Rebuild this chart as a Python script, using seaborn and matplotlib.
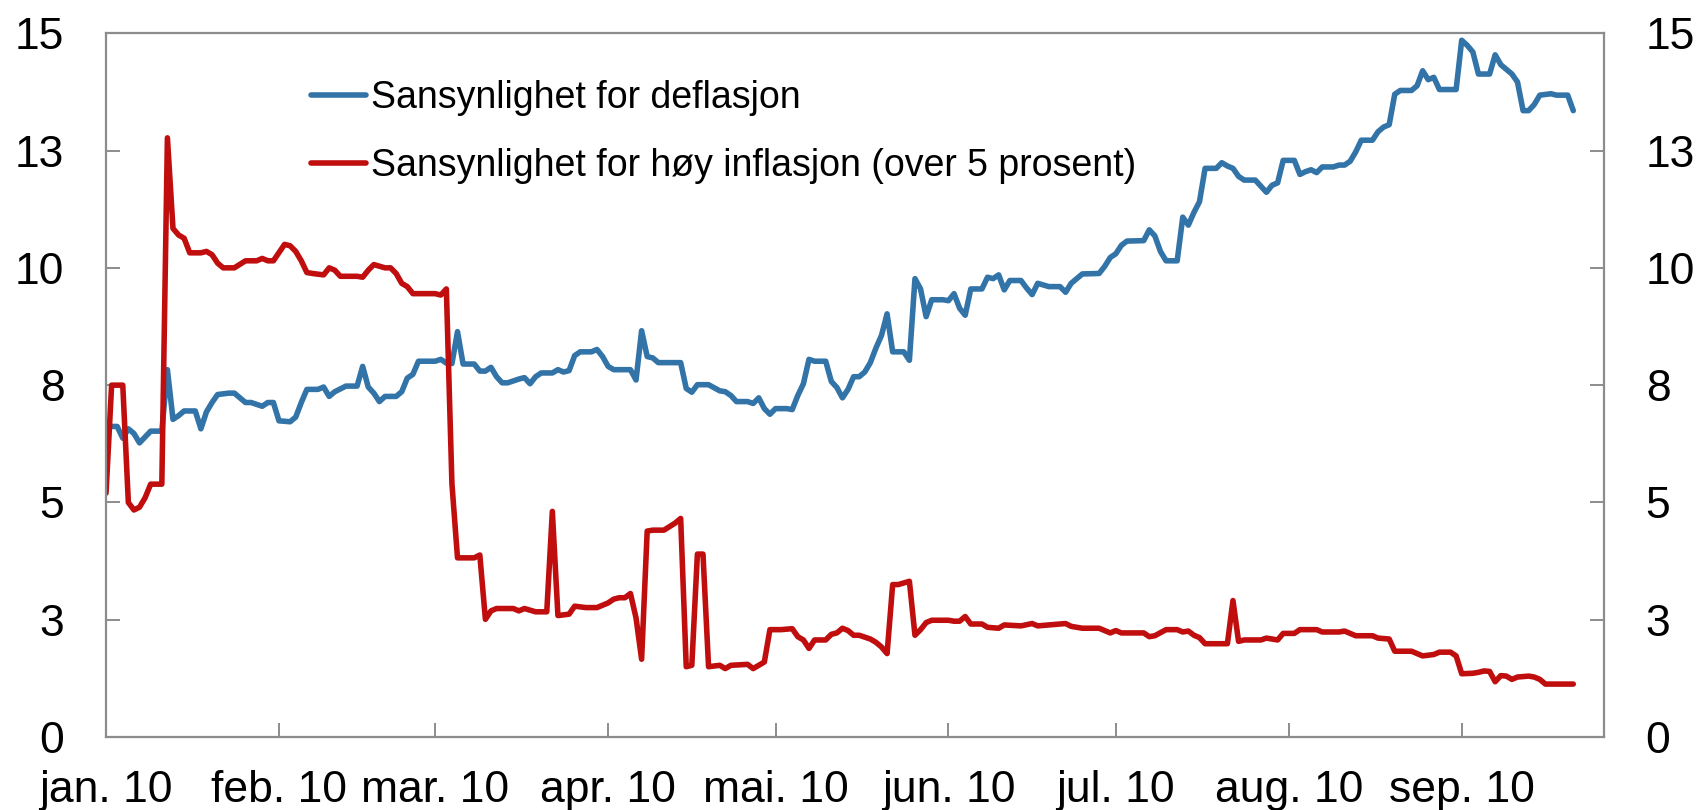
"""
Sannsynlighet for deflasjon og høy inflasjon, 2010
"""

import matplotlib

matplotlib.use("Agg")
import matplotlib.pyplot as plt
import pandas as pd
import seaborn as sns

START = pd.Timestamp("2010-01-01")

# (dager etter 1. jan 2010, prosent) - lest av figuren
defl_points = [
    (0, 6.62), (2, 6.62), (3, 6.37), (4, 6.57), (5, 6.47), (6, 6.27), (8, 6.52), (10, 6.52),
    (11, 7.83), (12, 6.77), (13, 6.85), (14, 6.95), (16, 6.95), (17, 6.57), (18, 6.93),
    (19, 7.13), (20, 7.30), (22, 7.33), (23, 7.33), (25, 7.13), (26, 7.13), (28, 7.05),
    (29, 7.13), (30, 7.13), (31, 6.74), (33, 6.72), (34, 6.82), (35, 7.13), (36, 7.41),
    (38, 7.41), (39, 7.46), (40, 7.26), (41, 7.36), (43, 7.48), (45, 7.48), (46, 7.90),
    (47, 7.46), (48, 7.33), (49, 7.15), (50, 7.26), (52, 7.26), (53, 7.36), (54, 7.65),
    (55, 7.73), (56, 8.01), (59, 8.01), (60, 8.05), (61, 7.97), (62, 7.96), (63, 8.64),
    (64, 7.95), (66, 7.95), (67, 7.80), (68, 7.80), (69, 7.88), (70, 7.68), (71, 7.55),
    (72, 7.55), (74, 7.63), (75, 7.66), (76, 7.53), (77, 7.68), (78, 7.76), (80, 7.76),
    (81, 7.83), (82, 7.78), (83, 7.81), (84, 8.13), (85, 8.21), (87, 8.21), (88, 8.26),
    (89, 8.11), (90, 7.90), (91, 7.83), (94, 7.83), (95, 7.61), (96, 8.66), (97, 8.11),
    (98, 8.08), (99, 7.98), (103, 7.98), (104, 7.43), (105, 7.35), (106, 7.51), (108, 7.51),
    (110, 7.38), (111, 7.36), (112, 7.28), (113, 7.15), (115, 7.15), (116, 7.11), (117, 7.23),
    (118, 7.00), (119, 6.88), (120, 7.00), (122, 7.00), (123, 6.98), (124, 7.28), (125, 7.53),
    (126, 8.05), (127, 8.01), (129, 8.01), (130, 7.58), (131, 7.45), (132, 7.23), (133, 7.41),
    (134, 7.68), (135, 7.68), (136, 7.78), (137, 7.98), (138, 8.29), (139, 8.56), (140, 9.02),
    (141, 8.21), (143, 8.21), (144, 8.03), (145, 9.77), (146, 9.55), (147, 8.96), (148, 9.32),
    (150, 9.32), (151, 9.30), (152, 9.45), (153, 9.14), (154, 8.99), (155, 9.55), (157, 9.55),
    (158, 9.80), (159, 9.77), (160, 9.85), (161, 9.53), (162, 9.73), (164, 9.73), (165, 9.57),
    (166, 9.43), (167, 9.67), (169, 9.60), (171, 9.60), (172, 9.48), (173, 9.67), (174, 9.77),
    (175, 9.87), (178, 9.88), (179, 10.03), (180, 10.22), (181, 10.30), (182, 10.48),
    (183, 10.57), (186, 10.58), (187, 10.81), (188, 10.68), (189, 10.35), (190, 10.15),
    (192, 10.15), (193, 11.08), (194, 10.91), (195, 11.18), (196, 11.41), (197, 12.12),
    (199, 12.12), (200, 12.24), (201, 12.17), (202, 12.12), (203, 11.95), (204, 11.87),
    (206, 11.87), (207, 11.74), (208, 11.61), (209, 11.76), (210, 11.81), (211, 12.29),
    (213, 12.29), (214, 11.99), (215, 12.05), (216, 12.09), (217, 12.03), (218, 12.15),
    (220, 12.15), (221, 12.19), (222, 12.19), (223, 12.27), (224, 12.47), (225, 12.72),
    (227, 12.72), (228, 12.90), (229, 13.00), (230, 13.05), (231, 13.70), (232, 13.78),
    (234, 13.78), (235, 13.88), (236, 14.20), (237, 14.01), (238, 14.06), (239, 13.80),
    (242, 13.80), (243, 14.85), (244, 14.74), (245, 14.60), (246, 14.13), (248, 14.13),
    (249, 14.54), (250, 14.33), (251, 14.23), (252, 14.13), (253, 13.96), (254, 13.35),
    (255, 13.35), (256, 13.48), (257, 13.68), (259, 13.71), (260, 13.68), (262, 13.68),
    (263, 13.35),
]

infl_points = [
    (0, 5.20), (1, 7.50), (3, 7.50), (4, 5.00), (5, 4.84), (6, 4.90), (7, 5.10), (8, 5.39),
    (10, 5.39), (11, 12.77), (12, 10.84), (13, 10.70), (14, 10.63), (15, 10.32), (17, 10.32),
    (18, 10.35), (19, 10.28), (20, 10.10), (21, 10.00), (23, 10.00), (25, 10.15), (27, 10.15),
    (28, 10.20), (29, 10.15), (30, 10.15), (32, 10.50), (33, 10.47), (34, 10.35), (35, 10.15),
    (36, 9.90), (37, 9.88), (39, 9.85), (40, 10.00), (41, 9.95), (42, 9.82), (45, 9.82),
    (46, 9.80), (47, 9.95), (48, 10.07), (50, 10.00), (51, 10.00), (52, 9.88), (53, 9.67),
    (54, 9.60), (55, 9.45), (59, 9.45), (60, 9.42), (61, 9.55), (62, 5.40), (63, 3.82),
    (66, 3.82), (67, 3.88), (68, 2.51), (69, 2.69), (70, 2.74), (73, 2.74), (74, 2.69),
    (75, 2.74), (77, 2.67), (79, 2.67), (80, 4.81), (81, 2.59), (83, 2.62), (84, 2.79),
    (86, 2.76), (88, 2.76), (90, 2.86), (91, 2.94), (92, 2.97), (93, 2.97), (94, 3.06),
    (95, 2.54), (96, 1.66), (97, 4.39), (98, 4.41), (100, 4.41), (102, 4.56), (103, 4.66),
    (104, 1.50), (105, 1.53), (106, 3.90), (107, 3.90), (108, 1.50), (110, 1.53), (111, 1.46),
    (112, 1.53), (115, 1.55), (116, 1.46), (118, 1.60), (119, 2.29), (121, 2.29), (123, 2.31),
    (124, 2.14), (125, 2.07), (126, 1.89), (127, 2.07), (129, 2.07), (130, 2.19), (131, 2.22),
    (132, 2.32), (133, 2.27), (134, 2.17), (135, 2.17), (137, 2.09), (138, 2.02), (139, 1.92),
    (140, 1.78), (141, 3.25), (142, 3.25), (144, 3.32), (145, 2.17), (146, 2.29), (147, 2.44),
    (148, 2.49), (151, 2.49), (152, 2.47), (153, 2.47), (154, 2.57), (155, 2.41), (157, 2.41),
    (158, 2.34), (160, 2.32), (161, 2.39), (164, 2.37), (166, 2.42), (167, 2.37), (169, 2.39),
    (172, 2.42), (173, 2.36), (175, 2.32), (178, 2.32), (180, 2.22), (181, 2.27), (182, 2.22),
    (184, 2.22), (186, 2.22), (187, 2.14), (188, 2.16), (190, 2.29), (192, 2.29), (193, 2.24),
    (194, 2.26), (195, 2.17), (196, 2.12), (197, 1.99), (201, 1.99), (202, 2.91), (203, 2.04),
    (204, 2.07), (207, 2.07), (208, 2.11), (210, 2.07), (211, 2.21), (213, 2.21), (214, 2.29),
    (217, 2.29), (218, 2.24), (221, 2.24), (222, 2.26), (224, 2.16), (227, 2.16), (228, 2.11),
    (230, 2.09), (231, 1.83), (234, 1.83), (236, 1.73), (238, 1.76), (239, 1.81), (241, 1.81),
    (242, 1.73), (243, 1.35), (245, 1.36), (246, 1.38), (247, 1.41), (248, 1.40), (249, 1.18),
    (250, 1.31), (251, 1.30), (252, 1.23), (253, 1.28), (255, 1.30), (256, 1.28), (257, 1.23),
    (258, 1.13), (260, 1.13), (263, 1.13),
]

series_names = ["Sansynlighet for deflasjon", "Sansynlighet for høy inflasjon (over 5 prosent)"]
series_colors = ["#3273A8", "#C00D0D"]

month_starts = ["2010-01-01", "2010-02-01", "2010-03-01", "2010-04-01", "2010-05-01",
                "2010-06-01", "2010-07-01", "2010-08-01", "2010-09-01"]
month_labels = ["jan. 10", "feb. 10", "mar. 10", "apr. 10", "mai. 10",
                "jun. 10", "jul. 10", "aug. 10", "sep. 10"]

y_ticks = [0, 2.5, 5, 7.5, 10, 12.5, 15]
y_labels = ["0", "3", "5", "8", "10", "13", "15"]

# Sett sammen til en lang tabell
frames = []
for name, points in zip(series_names, [defl_points, infl_points]):
    days, vals = zip(*points)
    frames.append(pd.DataFrame({
        "dato": START + pd.to_timedelta(list(days), unit="D"),
        "prosent": vals,
        "serie": name,
    }))
df = pd.concat(frames, ignore_index=True)

sns.set_theme(style="white")
plt.rcParams["font.family"] = ["Liberation Sans", "DejaVu Sans"]
plt.rcParams["text.color"] = "black"

fig = plt.figure(figsize=(17.02, 8.10), dpi=100)
ax = fig.add_axes([0.0623, 0.090, 0.8801, 0.869])

sns.lineplot(data=df, x="dato", y="prosent", hue="serie", hue_order=series_names,
             palette=series_colors, linewidth=4.0, ax=ax, legend=True)

# Akser
ax.set_xlim(START, pd.Timestamp("2010-09-26 12:00"))
ax.set_ylim(0, 15)
ax.set_xticks(pd.to_datetime(month_starts))
ax.set_xticklabels(month_labels)
ax.set_yticks(y_ticks)
ax.set_yticklabels(y_labels)
ax.set_xlabel("")
ax.set_ylabel("")

frame_color = "#8C8C8C"
for side in ["left", "right", "top", "bottom"]:
    ax.spines[side].set_visible(True)
    ax.spines[side].set_color(frame_color)
    ax.spines[side].set_linewidth(1.6)

ax.tick_params(axis="y", direction="in", length=10, width=1.4, color=frame_color,
               left=True, right=True, labelleft=True, labelright=True,
               labelsize=32, pad=30, labelcolor="black")
ax.tick_params(axis="x", direction="in", length=10, width=1.4, color=frame_color,
               bottom=True, labelsize=32, pad=24, labelcolor="black")

handles, labels = ax.get_legend_handles_labels()
leg = ax.legend(handles, labels, loc="upper left", bbox_to_anchor=(0.137, 0.934),
                frameon=False, fontsize=27, handlelength=1.45, handletextpad=0.15,
                labelspacing=0.87, borderpad=0, borderaxespad=0)
for line in leg.get_lines():
    line.set_linewidth(4.0)

fig.savefig("out.png", dpi=100)
